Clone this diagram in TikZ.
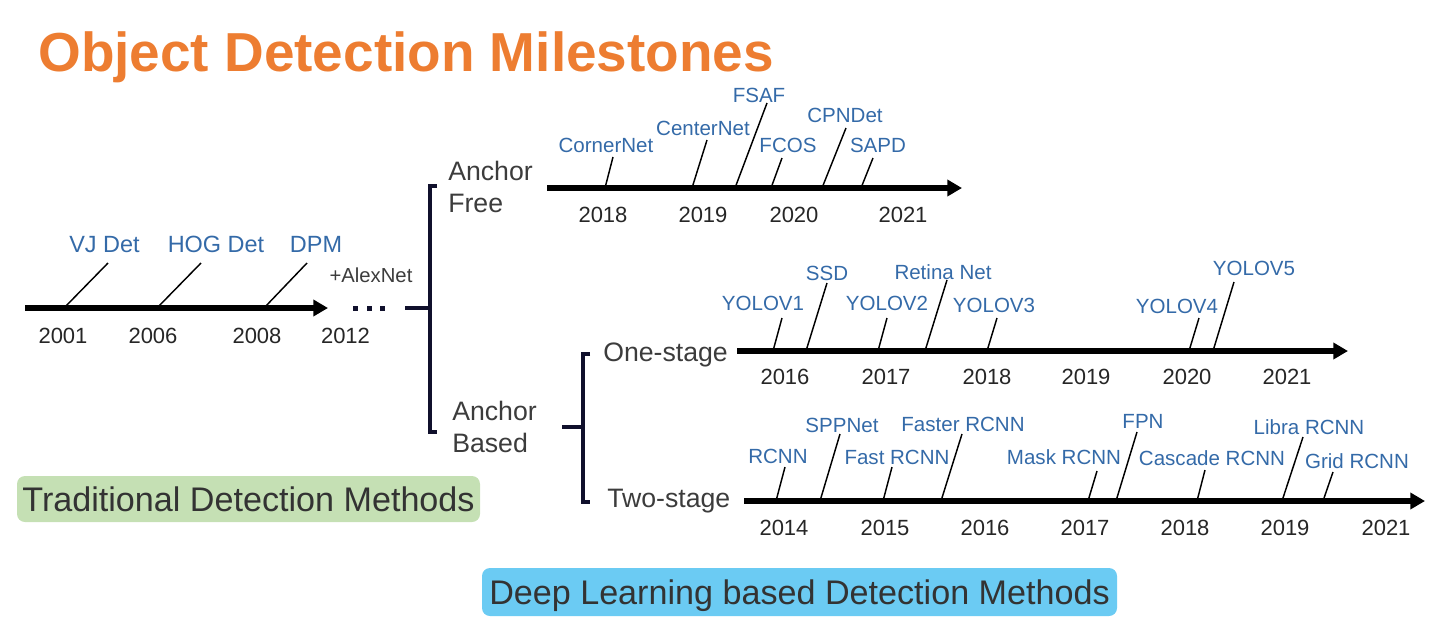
\documentclass[tikz,border=0pt]{standalone}
\usepackage{fontspec}
\setmainfont{Liberation Sans}
\usetikzlibrary{arrows.meta}
\definecolor{titleorange}{RGB}{237,125,49}
\definecolor{lblblue}{RGB}{52,106,168}
\definecolor{yeargray}{RGB}{38,38,38}
\definecolor{txtgray}{RGB}{60,60,60}
\definecolor{boxtext}{RGB}{51,51,51}
\definecolor{brknavy}{RGB}{16,16,44}
\definecolor{greenbox}{RGB}{197,224,180}
\definecolor{bluebox}{RGB}{107,203,243}
\begin{document}
\begin{tikzpicture}[x=0.75pt,y=-0.75pt,
 lbl/.style={inner sep=0pt, anchor=base, text=lblblue, font=\fontsize{15.4}{18}\selectfont},
 tlbl/.style={lbl, font=\fontsize{17.6}{20}\selectfont},
 yr/.style={inner sep=0pt, anchor=base, text=yeargray, font=\fontsize{16.5}{19}\selectfont},
 cat/.style={inner sep=0pt, text=txtgray, font=\fontsize{20}{24.5}\selectfont, align=left},
 axisline/.style={line width=3.9pt, -{Triangle[length=11pt,width=12pt]}},
 tickline/.style={line width=1.1pt},
 brk/.style={line width=3.2pt, draw=brknavy},
 methodbox/.style={rounded corners=6pt, inner sep=0pt, text=boxtext, font=\fontsize{25.6}{30}\selectfont, text height=18.7pt, text depth=0pt}
]
\useasboundingbox (0,0) rectangle (1440,633);

% title
\node[anchor=base west, inner sep=0pt, text=titleorange, font=\bfseries\fontsize{41.2}{48}\selectfont] (title) at (38,71) {Object Detection Milestones};

% ---------- traditional timeline ----------
\draw[axisline] (25,308) coordinate (tA) -- (328,308) coordinate (tB);
\draw[tickline] (64,308) coordinate (vjF) -- (108,263) coordinate (vjT);
\draw[tickline] (157,308) coordinate (hogF) -- (201,263) coordinate (hogT);
\draw[tickline] (264,308) coordinate (dpmF) -- (307,263) coordinate (dpmT);
\node[tlbl] (vj) at (104.5,252) {VJ Det};
\node[tlbl] (hog) at (216,252) {HOG Det};
\node[tlbl] (dpm) at (316,252) {DPM};
\node[yr] (y2001) at (63,343) {2001};
\node[yr] (y2006) at (153,343) {2006};
\node[yr] (y2008) at (257,343) {2008};
\node[yr] (y2012) at (345.5,343) {2012};
\node[inner sep=0pt, anchor=base, text=txtgray, font=\fontsize{15.2}{18}\selectfont] (alex) at (371,282) {+AlexNet};
\fill[brknavy] (353,306) rectangle (358,311);
\fill[brknavy] (367,306) rectangle (372,311);
\fill[brknavy] (380,306) rectangle (385,311);

% ---------- first bracket ----------
\coordinate (b1stub) at (405,308);
\coordinate (b1mid) at (430,308);
\draw[brk] (b1stub) -- (b1mid);
\draw[brk] (437,186) -- (430,186) -- (430,432) -- (437,432);
\node[cat, anchor=west] (af) at (448,187) {Anchor\\Free};
\node[cat, anchor=west] (ab) at (452,427) {Anchor\\Based};

% ---------- anchor free ----------
\draw[axisline] (547,188) coordinate (afA) -- (962,188) coordinate (afB);
\draw[tickline] (605,188) -- (613,157);
\draw[tickline] (692,188) -- (707,140);
\draw[tickline] (735,188) -- (767,103);
\draw[tickline] (771,188) -- (782,158);
\draw[tickline] (822,188) -- (846,128);
\draw[tickline] (861,188) -- (873,158);
\node[lbl] (cornernet) at (606,152) {CornerNet};
\node[lbl] (centernet) at (703,135) {CenterNet};
\node[lbl] (fsaf) at (759,102) {FSAF};
\node[lbl] (fcos) at (788,152) {FCOS};
\node[lbl] (cpndet) at (845,122) {CPNDet};
\node[lbl] (sapd) at (878,152) {SAPD};
\node[yr] at (603,222) {2018};
\node[yr] at (703,222) {2019};
\node[yr] at (794,222) {2020};
\node[yr] at (903,222) {2021};

% ---------- second bracket ----------
\coordinate (b2stub) at (562,427);
\coordinate (b2mid) at (583,427);
\draw[brk] (b2stub) -- (b2mid);
\draw[brk] (590,354) -- (583,354) -- (583,502) -- (590,502);
\node[cat, anchor=base west] (one) at (603,361) {One-stage};
\node[cat, anchor=base west] (two) at (607,507) {Two-stage};

% ---------- one-stage ----------
\draw[axisline] (737,351) coordinate (osA) -- (1348,351) coordinate (osB);
\draw[tickline] (773,351) -- (782,318);
\draw[tickline] (806,351) -- (827,283);
\draw[tickline] (878,351) -- (887,318);
\draw[tickline] (925,351) -- (947,280);
\draw[tickline] (987,351) -- (997,318);
\draw[tickline] (1189,351) -- (1199,318);
\draw[tickline] (1213,351) -- (1234,282);
\node[lbl] (yolo1) at (763,310) {YOLOV1};
\node[lbl] (ssd) at (827,280) {SSD};
\node[lbl] (yolo2) at (887,310) {YOLOV2};
\node[lbl] (retina) at (943,279) {Retina Net};
\node[lbl] (yolo3) at (994,312) {YOLOV3};
\node[lbl] (yolo4) at (1177,313) {YOLOV4};
\node[lbl] (yolo5) at (1254,275) {YOLOV5};
\node[yr] at (785,384) {2016};
\node[yr] at (886,384) {2017};
\node[yr] at (987,384) {2018};
\node[yr] at (1086,384) {2019};
\node[yr] at (1187,384) {2020};
\node[yr] at (1287,384) {2021};

% ---------- two-stage ----------
\draw[axisline] (744,501) coordinate (tsA) -- (1425,501) coordinate (tsB);
\draw[tickline] (776,501) -- (785,467);
\draw[tickline] (820,501) -- (840,434);
\draw[tickline] (883,501) -- (892,467);
\draw[tickline] (941,501) -- (962,434);
\draw[tickline] (1088,501) -- (1097,471);
\draw[tickline] (1116,501) -- (1137,432);
\draw[tickline] (1197,501) -- (1205,470);
\draw[tickline] (1282,501) -- (1303,437);
\draw[tickline] (1323,501) -- (1333,472);
\node[lbl] (rcnn) at (778,463) {RCNN};
\node[lbl] (spp) at (842,432) {SPPNet};
\node[lbl] (fast) at (897,464) {Fast RCNN};
\node[lbl] (faster) at (963,431) {Faster RCNN};
\node[lbl] (mask) at (1064,464) {Mask RCNN};
\node[lbl] (fpn) at (1143,428) {FPN};
\node[lbl] (cascade) at (1212,465) {Cascade RCNN};
\node[lbl] (libra) at (1309,434) {Libra RCNN};
\node[lbl] (grid) at (1357,468) {Grid RCNN};
\node[yr] at (784,535) {2014};
\node[yr] at (885,535) {2015};
\node[yr] at (985,535) {2016};
\node[yr] at (1085,535) {2017};
\node[yr] at (1185,535) {2018};
\node[yr] at (1285,535) {2019};
\node[yr] at (1386,535) {2021};

% ---------- method boxes ----------
\node[methodbox, fill=greenbox, minimum width=347.25pt, minimum height=34.5pt] (trad) at (248.5,499) {Traditional Detection Methods};
\node[methodbox, fill=bluebox, minimum width=476.25pt, minimum height=36pt] (deep) at (799.5,592) {Deep Learning based Detection Methods};
\end{tikzpicture}
\end{document}
